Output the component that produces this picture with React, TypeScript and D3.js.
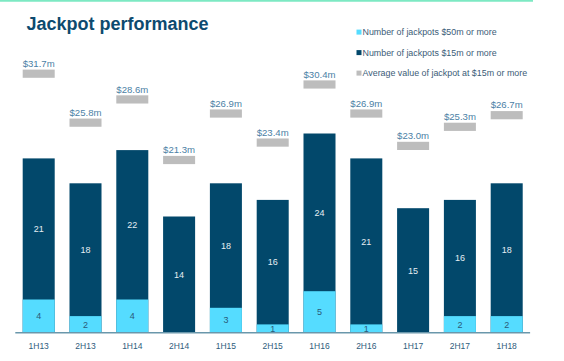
import React from 'react';
import * as d3 from 'd3';

const categories = ['1H13', '2H13', '1H14', '2H14', '1H15', '2H15', '1H16', '2H16', '1H17', '2H17', '1H18'];
const jackpots15 = [21, 18, 22, 14, 18, 16, 24, 21, 15, 16, 18];
const jackpots50 = [4, 2, 4, 0, 3, 1, 5, 1, 0, 2, 2];
const avgValue = [31.7, 25.8, 28.6, 21.3, 26.9, 23.4, 30.4, 26.9, 23.0, 25.3, 26.7];
const legendLabels = [
  'Number of jackpots $50m or more',
  'Number of jackpots $15m or more',
  'Average value of jackpot at $15m or more',
];

const W = 564;
const H = 361;
const DARK = '#02486b';
const LIGHT = '#55dcff';
const GRAY = '#bdbdbd';
const FONT = 'Liberation Sans, Arial, sans-serif';

export default function App() {
  const x = d3.scaleBand<string>().domain(categories).range([15.3, 530.1]).paddingInner(0.316).paddingOuter(0.158);
  const baseline = 332.7;
  const y = d3.scaleLinear().domain([0, 40]).range([baseline, baseline - 332]);
  const bw = x.bandwidth();
  const legendColors = [LIGHT, DARK, GRAY];
  const legendY = [32.3, 52.8, 73.3];

  return (
    <svg width={W} height={H} style={{ position: 'absolute', left: 0, top: 0 }} fontFamily={FONT}>
      <rect width={W} height={H} fill="#fff" />
      <line x1={0} x2={533} y1={0.8} y2={0.8} stroke="#7de9c3" strokeWidth={1.8} />
      <text x={26.5} y={29.5} fontSize={18} fontWeight="bold" fill="#0d4a6f">Jackpot performance</text>

      {legendLabels.map((l, i) => (
        <g key={l}>
          <rect x={356.5} y={legendY[i] - 2.7} width={5} height={5} fill={legendColors[i]} />
          <text x={362.5} y={legendY[i] + 3} fontSize={8.9} fill="#3b5c77">{l}</text>
        </g>
      ))}

      {categories.map((c, i) => {
        const x0 = x(c)!;
        const cx = x0 + bw / 2;
        const top = y(jackpots15[i]);
        const lightTop = y(jackpots50[i]);
        return (
          <g key={c}>
            <rect x={x0} y={top} width={bw} height={baseline - top} fill={DARK} />
            {jackpots50[i] > 0 && (
              <rect x={x0} y={lightTop} width={bw} height={baseline - lightTop} fill={LIGHT} />
            )}
            <text x={cx} y={(top + lightTop) / 2 + 3.2} fontSize={9} textAnchor="middle" fill="#e6eef3">
              {jackpots15[i]}
            </text>
            {jackpots50[i] > 0 && (
              <text x={cx} y={(lightTop + baseline) / 2 + 3.2} fontSize={9} textAnchor="middle" fill="#2b5a78">
                {jackpots50[i]}
              </text>
            )}
            <rect x={x0} y={y(avgValue[i])} width={bw} height={8.2} fill={GRAY} />
            <text x={cx} y={y(avgValue[i]) - 2.6} fontSize={9.6} textAnchor="middle" fill="#4b7fa5">
              {`$${avgValue[i].toFixed(1)}m`}
            </text>
            <text x={cx} y={349.3} fontSize={8.5} textAnchor="middle" fill="#2f5d7c">{c}</text>
          </g>
        );
      })}

      <line x1={15.3} x2={530.1} y1={baseline} y2={baseline} stroke="#6a97ab" strokeWidth={1.5} />
    </svg>
  );
}
